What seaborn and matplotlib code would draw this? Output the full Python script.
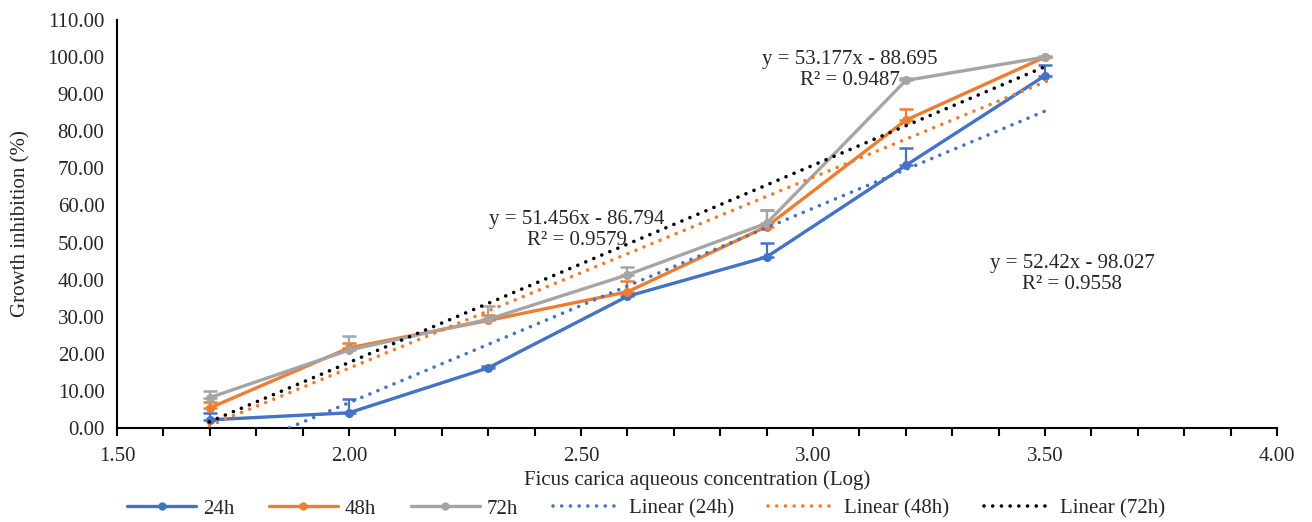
import numpy as np
import pandas as pd
import matplotlib
matplotlib.use("Agg")
import matplotlib.pyplot as plt
import seaborn as sns
from matplotlib.ticker import MultipleLocator, FormatStrFormatter
from matplotlib.lines import Line2D

# ---- data ----
log_conc = [1.70, 2.00, 2.30, 2.60, 2.90, 3.20, 3.50]
inhib_24h = [2.2, 4.1, 16.2, 35.5, 46.1, 70.8, 95.0]
inhib_48h = [5.4, 21.6, 29.0, 36.7, 54.3, 83.0, 100.0]
inhib_72h = [8.2, 21.0, 29.3, 41.3, 55.2, 93.7, 100.0]
err_24h = [1.9, 3.6, 0.6, 0.8, 3.7, 4.8, 2.8]
err_48h = [1.5, 1.4, 1.5, 3.0, 4.5, 3.0, 0.0]
err_72h = [1.9, 3.8, 3.6, 2.2, 3.6, 0.6, 0.4]
series_names = ["24h", "48h", "72h"]
trend_slope = [52.42, 51.456, 53.177]
trend_intercept = [-98.027, -86.794, -88.695]
trend_r2 = [0.9558, 0.9579, 0.9487]
x_range = [1.699, 3.505]

colors = {"24h": "#4472C4", "48h": "#ED7D31", "72h": "#A5A5A5"}
trend_colors = {"24h": "#4472C4", "48h": "#ED7D31", "72h": "#000000"}

df = pd.DataFrame({
    "x": log_conc * 3,
    "y": inhib_24h + inhib_48h + inhib_72h,
    "err": err_24h + err_48h + err_72h,
    "series": sum([[s] * len(log_conc) for s in series_names], []),
})

rows = []
for s, m, b in zip(series_names, trend_slope, trend_intercept):
    for xv in x_range:
        rows.append({"x": xv, "y": m * xv + b, "series": "Linear (%s)" % s})
tdf = pd.DataFrame(rows)

sns.set_theme(style="white")
plt.rcParams["font.family"] = ["Liberation Serif", "DejaVu Serif"]
plt.rcParams["xtick.minor.size"] = 6
plt.rcParams["xtick.major.size"] = 6

fig = plt.figure(figsize=(13.12, 5.22), dpi=100)
ax = fig.add_axes([117 / 1312, (522 - 428) / 522, 1160 / 1312, 408 / 522])

FS = 15
LW = 2.4
DOT = (0, (0.01, 2.4))

# error bars (plus only)
for s in series_names:
    sub = df[df.series == s]
    ax.errorbar(sub.x, sub.y, yerr=[np.zeros(len(sub)), sub.err], fmt="none",
                ecolor=colors[s], elinewidth=1.6, capsize=4.8, capthick=1.8, zorder=3)

# series lines
sns.lineplot(data=df, x="x", y="y", hue="series", palette=colors, marker="o",
             markersize=6.5, markeredgewidth=0, linewidth=LW, ax=ax, zorder=4,
             legend=False, errorbar=None, sort=False)

# trendlines
for s in series_names:
    name = "Linear (%s)" % s
    sub = tdf[tdf.series == name]
    sns.lineplot(data=sub, x="x", y="y", color=trend_colors[s], linewidth=2.6,
                 linestyle=DOT, ax=ax, zorder=5, legend=False, errorbar=None)
for line in ax.lines[-3:]:
    line.set_dash_capstyle("round")

ax.set_xlim(1.5, 4.0)
ax.set_ylim(0, 110)
ax.xaxis.set_major_locator(MultipleLocator(0.5))
ax.xaxis.set_minor_locator(MultipleLocator(0.1))
ax.xaxis.set_major_formatter(FormatStrFormatter("%.2f"))
ax.yaxis.set_major_locator(MultipleLocator(10))
ax.yaxis.set_major_formatter(FormatStrFormatter("%.2f"))
ax.tick_params(axis="x", which="major", direction="out", length=6, width=1.5,
               color="black", labelsize=FS, pad=8, bottom=True)
ax.tick_params(axis="x", which="minor", direction="out", length=6, width=1.5,
               color="black", bottom=True)
ax.tick_params(axis="y", which="both", length=0, labelsize=FS, pad=9)
for sp in ["top", "right"]:
    ax.spines[sp].set_visible(False)
for sp in ["left", "bottom"]:
    ax.spines[sp].set_color("black")
    ax.spines[sp].set_linewidth(1.5)

ax.set_xlabel("Ficus carica aqueous concentration (Log)", fontsize=FS, labelpad=3)
ax.set_ylabel("Growth inhibition (%)", fontsize=FS, labelpad=12)

# trendline equations
eq_pos = {"48h": (577, 218), "72h": (850, 58), "24h": (1072, 262)}
for s, m, b, r2 in zip(series_names, trend_slope, trend_intercept, trend_r2):
    px, py = eq_pos[s]
    txt = "y = %sx - %s\nR² = %s" % (("%g" % m), ("%g" % -b), ("%g" % r2))
    fig.text(px / 1312, 1 - (py + 12) / 522, txt, ha="center", va="center",
             fontsize=FS, linespacing=1.15, multialignment="center")

# legend
handles = []
labels = []
for s in series_names:
    handles.append(Line2D([], [], color=colors[s], lw=LW, marker="o", markersize=6,
                          markeredgewidth=0))
    labels.append(s)
for s in series_names:
    handles.append(Line2D([], [], color=trend_colors[s], lw=2.6,
                          linestyle=DOT, dash_capstyle="round"))
    labels.append("Linear (%s)" % s)
fig.legend(handles, labels, loc="center", bbox_to_anchor=(646 / 1312, 1 - 509 / 522),
           ncol=6, frameon=False, fontsize=FS, handlelength=3.3, columnspacing=1.65,
           handletextpad=0.35)

fig.savefig("out.png", dpi=100)
